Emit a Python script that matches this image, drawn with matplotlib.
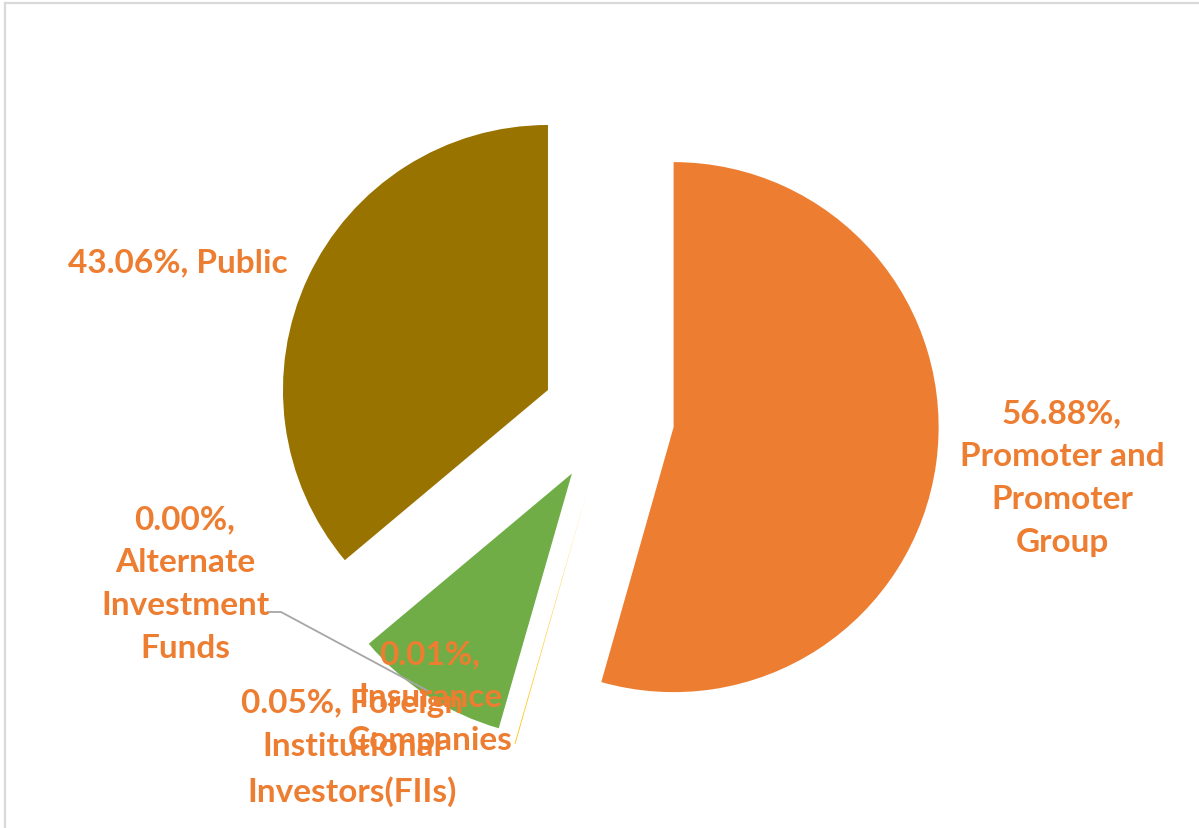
import matplotlib
matplotlib.use("Agg")
import matplotlib.pyplot as plt

# shareholding categories, clockwise from 12 o'clock
categories = ["Promoter and Promoter Group", "Insurance Companies",
              "Foreign Institutional Investors(FIIs)", "Alternate Investment Funds", "Public"]
label_texts = ["56.88%,\nPromoter and\nPromoter\nGroup",
               "0.01%,\nInsurance\nCompanies",
               "0.05%, Foreign\nInstitutional\nInvestors(FIIs)",
               "0.00%,\nAlternate\nInvestment\nFunds",
               "43.06%, Public"]
# wedge sizes as drawn in the picture (the drawn angles, not the label text)
wedge_sizes = [54.4, 0.05, 9.45, 0.0, 36.1]
colors = ["#ED7D31", "#FFC000", "#70AD47", "#A5A5A5", "#997300"]
explode_frac = [0.25, 0.28, 0.25, 0.25, 0.25]

W, H = 1199, 829
fig = plt.figure(figsize=(W / 100, H / 100), dpi=100)
ax = fig.add_axes([0, 0, 1, 1])

cx, cy, r = 608, H - 419, 265
# matplotlib's explode is an absolute offset, so scale it by the radius
ax.pie(wedge_sizes, colors=colors, explode=[e * r for e in explode_frac],
       startangle=90, counterclock=False, radius=r, center=(cx, cy), frame=True,
       wedgeprops=dict(linewidth=0))
ax.set_xlim(0, W)
ax.set_ylim(0, H)
ax.axis("off")
ax.set_aspect("auto")

orange = "#ED7D31"
font = dict(family=["Lato", "DejaVu Sans"], weight="bold", size=24, color=orange,
            ha="center", va="center", linespacing=1.58)

# label positions in pixels (x, y from top)
label_pos = [(1062, 478), (430, 698), (352, 748), (185, 584), (178, 263)]
for txt, (lx, ly) in zip(label_texts, label_pos):
    ax.text(lx, H - ly, txt, **font)

# leader line for the zero slice
ax.plot([268, 281, 430], [H - 613, H - 613, H - 693], color="#A6A6A6", lw=1.3)

# chart area border (left/top only visible)
fig.add_artist(plt.Line2D([4.5 / W, 4.5 / W], [0, 1 - 3.5 / H], transform=fig.transFigure,
                          color="#D9D9D9", lw=1.6))
fig.add_artist(plt.Line2D([4.5 / W, 1], [1 - 3.5 / H, 1 - 3.5 / H], transform=fig.transFigure,
                          color="#D9D9D9", lw=1.6))

fig.savefig("out.png", dpi=100, facecolor="white")
